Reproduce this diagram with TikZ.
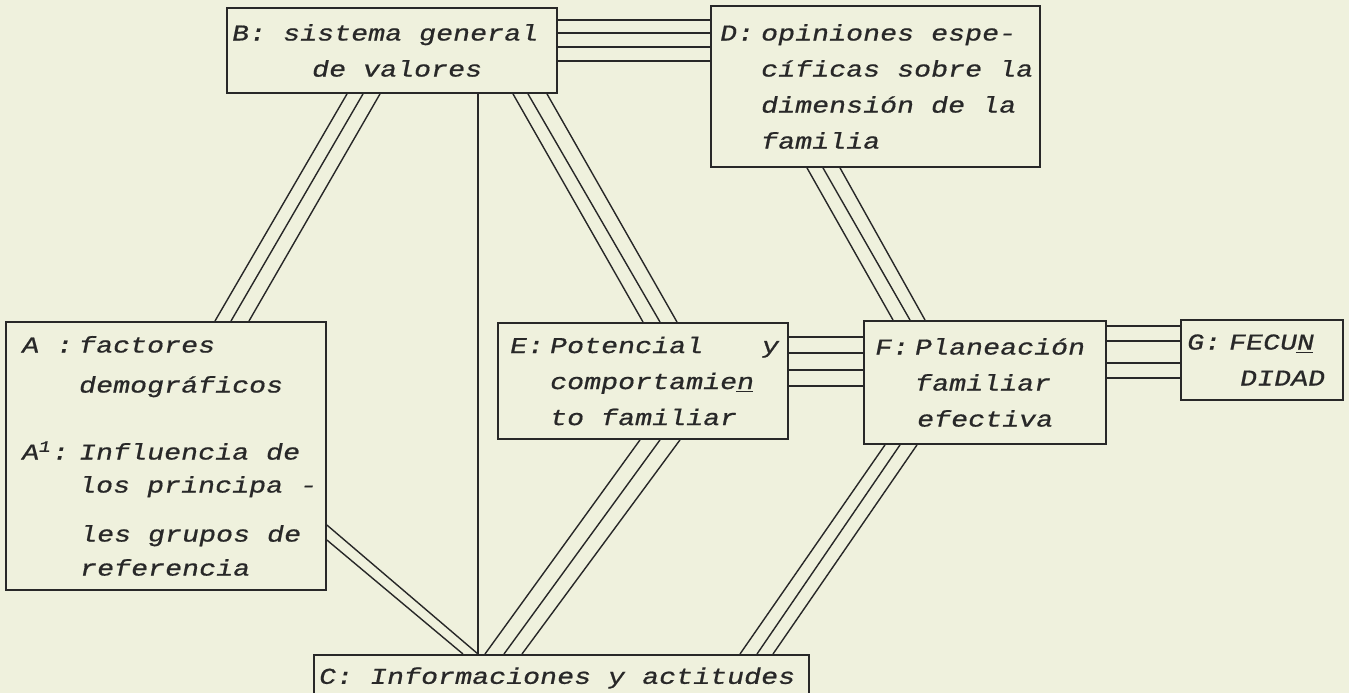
\documentclass[tikz,border=0pt]{standalone}
\usepackage{fontspec}
\usetikzlibrary{calc}
\newfontfamily\dotfont[FakeStretch=1.25,FakeSlant=0.2,FakeBold=0.8]{Liberation Mono}
\definecolor{paper}{RGB}{239,241,221}
\definecolor{ink}{RGB}{40,40,40}
\hyphenpenalty=10000
\exhyphenpenalty=10000
\tikzset{
  blk/.style={draw=ink, line width=1.1pt, rectangle, anchor=north west,
    align=flush left, inner ysep=0pt, text=ink,
    font={\dotfont\fontsize{12.9pt}{20.5pt}\selectfont
      \fontdimen2\font=9.675pt\fontdimen3\font=0pt\fontdimen4\font=0pt}},
  lnk/.style={draw=ink, line width=0.8pt}
}
\newcommand{\lead}[2]{\makebox[#1][l]{#2}}
\begin{document}
\begin{tikzpicture}[x=0.02cm,y=-0.02cm]
  \fill[paper] (0,0) rectangle (1349,693);
  \useasboundingbox (0,0) rectangle (1349,693);
  \clip (0,0) rectangle (1349,693);

  % boxes
  \node[blk, minimum width=6.6cm, minimum height=1.7cm, inner xsep=0.08cm, text width=6.44cm]
    (B) at (226,7) {B:~sistema~general\\ \hspace*{1.6cm}de~valores};
  \node[blk, minimum width=6.58cm, minimum height=3.22cm, inner xsep=0.16cm, text width=6.26cm]
    (D) at (710,5) {\lead{0.82cm}{D:}opiniones~espe-\\ \hspace*{0.82cm}cíficas~sobre~la\\
      \hspace*{0.82cm}dimensión~de~la\\ \hspace*{0.82cm}familia};
  \node[blk, minimum width=6.4cm, minimum height=5.36cm, inner xsep=0.3cm, text width=5.8cm]
    (A) at (5,321) {\lead{1.14cm}{A~:}factores\\[0.08cm]
      \hspace*{1.14cm}demográficos\\[0.62cm]
      \lead{1.14cm}{A\textsuperscript{1}:}Influencia~de\\[-0.06cm]
      \hspace*{1.14cm}\mbox{los principa -}\\[0.26cm]
      \hspace*{1.16cm}les~grupos~de\\[-0.04cm]
      \hspace*{1.16cm}referencia};
  \node[blk, minimum width=5.8cm, minimum height=2.32cm, inner xsep=0.22cm, text width=5.36cm]
    (E) at (497,322) {\lead{5.04cm}{\lead{0.8cm}{E:}Potencial}y\\
      \hspace*{0.8cm}comportamie\underline{n}\\ \hspace*{0.8cm}to~familiar};
  \node[blk, minimum width=4.84cm, minimum height=2.46cm, inner xsep=0.2cm, text width=4.44cm]
    (F) at (863,320) {\lead{0.8cm}{F:}Planeación\\ \hspace*{0.8cm}familiar\\ \hspace*{0.84cm}efectiva};
  \node[blk, minimum width=3.24cm, minimum height=1.6cm, inner xsep=0.1cm, text width=3.04cm]
    (G) at (1180,319) {\lead{0.84cm}{G:}FECU\underline{N}\\ \hspace*{1.06cm}DIDAD};
  \node[blk, minimum width=9.9cm, minimum height=0.92cm, inner xsep=0.08cm, text width=9.74cm]
    (C) at (313,654) {C:~Informaciones~y~actitudes};

  % connectors
  \begin{scope}[lnk]
    % B -- D
    \foreach \d in {13,26,40,54}
      \draw ($(B.north east)+(0,\d)$) -- ($(D.north west)+(0,\d+2)$);
    % B -- A
    \foreach \s/\t in {121/210,137/226,154/244}
      \draw ($(B.south west)+(\s,0)$) -- ($(A.north west)+(\t,0)$);
    % B -- C
    \draw ($(B.south west)+(252,0)$) -- ($(C.north west)+(165,0)$);
    % B -- E
    \foreach \s/\t in {287/146,302/163,321/180}
      \draw ($(B.south west)+(\s,0)$) -- ($(E.north west)+(\t,0)$);
    % D -- F
    \foreach \s/\t in {97/30,113/47,130/62}
      \draw ($(D.south west)+(\s,0)$) -- ($(F.north west)+(\t,0)$);
    % E -- F
    \foreach \d in {15,31,48,64}
      \draw ($(E.north east)+(0,\d)$) -- ($(F.north west)+(0,\d+2)$);
    % F -- G
    \foreach \d in {6,21,43,58}
      \draw ($(F.north east)+(0,\d)$) -- ($(G.north west)+(0,\d+1)$);
    % A -- C
    \foreach \s/\t in {204/165,219/150}
      \draw ($(A.north east)+(0,\s)$) -- ($(C.north west)+(\t,0)$);
    % E -- C
    \foreach \s/\t in {143/172,163/191,183/209}
      \draw ($(E.south west)+(\s,0)$) -- ($(C.north west)+(\t,0)$);
    % F -- C
    \foreach \s/\t in {22/427,37/444,54/460}
      \draw ($(F.south west)+(\s,0)$) -- ($(C.north west)+(\t,0)$);
  \end{scope}
\end{tikzpicture}
\end{document}
